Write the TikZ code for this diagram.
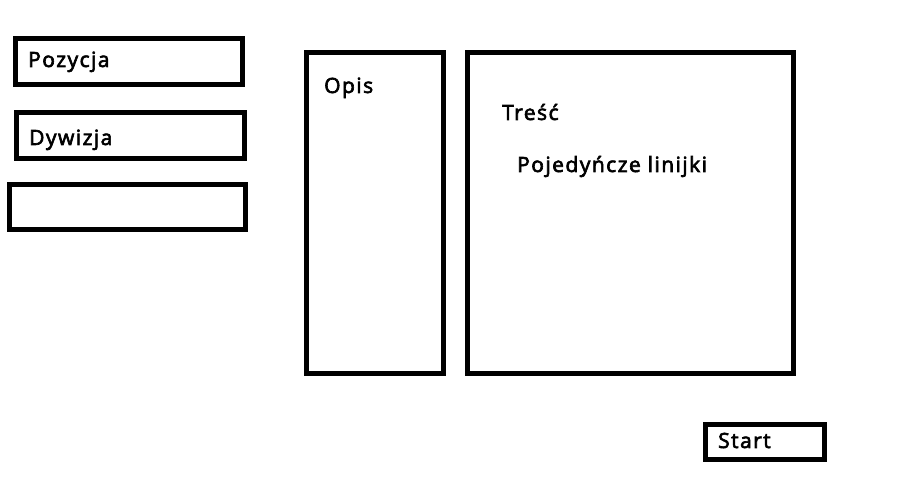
\documentclass[tikz,border=0pt]{standalone}
\usepackage{fontspec}
\setmainfont{Open Sans}[FakeBold=3,LetterSpace=7]
\tikzset{frame/.style={draw,line width=5pt,inner sep=0pt}}
\tikzset{label text/.style={anchor=base west,inner sep=0pt,font=\fontsize{21}{25}\selectfont}}

\begin{document}
\begin{tikzpicture}[x=1pt,y=-1pt]
\useasboundingbox (0,0) rectangle (898,486);
% left column
\node[frame,minimum width=227pt,minimum height=46pt] (pozycja) at (129,61.5) {};
\node[frame,minimum width=228pt,minimum height=46pt] (dywizja) at (130.5,135.5) {};
\node[frame,minimum width=236pt,minimum height=45pt] (pusty)   at (127.5,207) {};
\node[label text] (pozycjaTxt) at (28,67)  {Pozycja};
\node[label text] (dywizjaTxt) at (29,145) {Dywizja};
% panels
\node[frame,minimum width=137pt,minimum height=321pt] (opis)  at (375,213) {};
\node[frame,minimum width=326pt,minimum height=321pt] (tresc) at (630.5,213) {};
\node[label text] (opisTxt)   at (324,93)  {Opis};
\node[label text] (trescTxt)  at (502,120) {Treść};
\node[label text] (liniTxt)   at (517,172) {Pojedyńcze linijki};
% button
\node[frame,minimum width=119pt,minimum height=35pt] (start) at (765,442) {};
\node[label text] (startTxt) at (718,448) {Start};
\end{tikzpicture}
\end{document}
